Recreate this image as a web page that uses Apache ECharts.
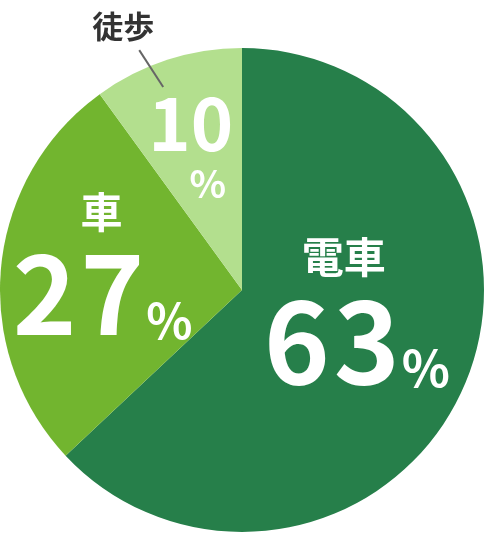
<!DOCTYPE html>
<html lang="ja">
<head>
    <meta charset="UTF-8">
    <title>通勤手段</title>
    <style>
        html, body { margin: 0; padding: 0; background: #fff; }
        #main { width: 484px; height: 534px; }
    </style>
</head>
<body>
<div id="main"></div>
<script src="https://cdn.jsdelivr.net/npm/echarts@6/dist/echarts.min.js"></script>
<script>
    // 通勤手段の割合
    var names = ['電車', '車', '徒歩'];
    var values = [63, 27, 10];
    var colors = ['#267f4a', '#72b52f', '#b3df8e'];

    var font = '"Noto Sans CJK JP", "Noto Sans", sans-serif';

    // ラベルの見た目（項目ごと）
    var labelStyles = [
        {offset: [0, -26], big: 112, small: 50, name: 42, namePad: 24, gap: 2},
        {offset: [-17, -12], big: 108, small: 48, name: 42, namePad: 0, gap: 2},
        {offset: [-13, -25], big: 72, small: 38, name: 0, namePad: 0, gap: 0}
    ];

    function bigLabel(i) {
        var s = labelStyles[i];
        var rich = {
            n: {fontFamily: font, fontWeight: 'bold', fontSize: s.name, color: '#fff', lineHeight: s.name + 14, padding: [0, s.namePad, 0, 0]},
            d: {fontFamily: font, fontWeight: 'bold', fontSize: s.big, color: '#fff', lineHeight: s.big, padding: [0, s.gap]},
            p: {fontFamily: font, fontWeight: 'bold', fontSize: s.small, color: '#fff', lineHeight: s.big, verticalAlign: 'bottom', padding: [0, 0, 4, 0]},
            p2: {fontFamily: font, fontWeight: 'bold', fontSize: s.small, color: '#fff', lineHeight: s.small + 8, padding: [0, 0, 0, 34]}
        };
        return {
            show: true,
            position: 'inside',
            offset: s.offset,
            rich: rich,
            formatter: function (params) {
                var digits = String(params.value).split('').map(function (c) {
                    return '{d|' + c + '}';
                }).join('');
                if (s.name === 0) {
                    return digits + '\n{p2|%}';
                }
                return '{n|' + params.name + '}\n' + digits + '{p|%}';
            }
        };
    }

    var innerData = [];
    var outerData = [];
    for (var i = 0; i < names.length; i++) {
        innerData.push({
            name: names[i],
            value: values[i],
            itemStyle: {color: colors[i]},
            label: bigLabel(i)
        });
        // 徒歩だけ外側に名前を出す（見えない円で引き出し線を作る）
        outerData.push({
            name: names[i],
            value: values[i],
            itemStyle: {color: 'transparent'},
            label: {
                show: i === 2,
                position: 'outside',
                offset: [20, -24],
                formatter: '{t|{b}}',
                rich: {
                    t: {fontFamily: font, fontWeight: 'bold', fontSize: 31, color: '#333', lineHeight: 36}
                }
            },
            labelLine: {show: i === 2}
        });
    }

    var option = {
        animation: false,
        series: [
            {
                name: '通勤手段',
                type: 'pie',
                center: [242, 290],
                radius: [0, 242],
                startAngle: 90,
                silent: true,
                avoidLabelOverlap: false,
                labelLine: {show: false},
                labelLayout: {hideOverlap: false},
                data: innerData
            },
            {
                name: '徒歩ラベル',
                type: 'pie',
                center: [295, 290],
                radius: [0, 242],
                startAngle: 105,
                silent: true,
                z: 3,
                avoidLabelOverlap: false,
                labelLine: {
                    length: 44,
                    length2: 0,
                    lineStyle: {color: '#666', width: 2}
                },
                data: outerData
            }
        ]
    };

    var myChart = echarts.init(document.getElementById('main'));
    myChart.setOption(option);
</script>
</body>
</html>
